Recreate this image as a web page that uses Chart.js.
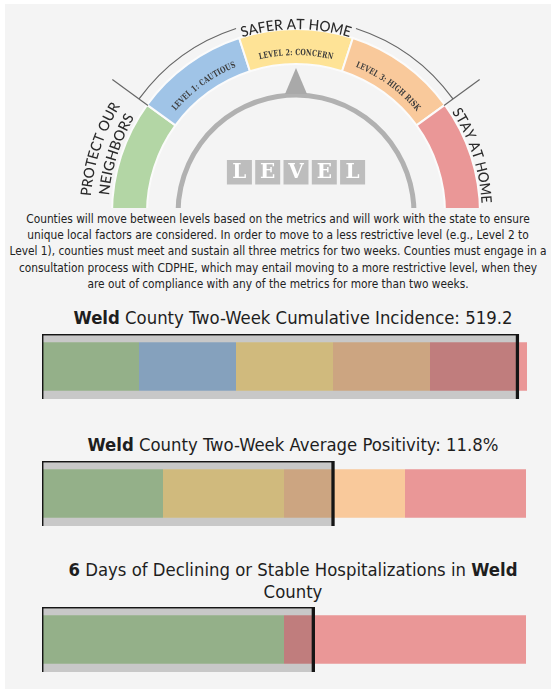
<!DOCTYPE html>
<html><head><meta charset="utf-8">
<script src="https://cdn.jsdelivr.net/npm/chart.js@4.4.1/dist/chart.umd.min.js"></script>
<style>
html,body{margin:0;padding:0;background:#fff;width:551px;height:689px;overflow:hidden;position:relative;}
#panel{position:absolute;left:5px;top:4px;right:0;bottom:0;background:#f4f4f4;}
#gaugeWrap{position:absolute;left:0;top:0;width:551px;height:208px;overflow:hidden;}
canvas{position:absolute;left:0;}
#desc{position:absolute;left:0;width:556px;top:211px;text-align:center;font-family:"DejaVu Sans Condensed","DejaVu Sans",sans-serif;font-stretch:condensed;color:#222;line-height:16.2px;font-size:11.5px;white-space:nowrap;}
.title{position:absolute;left:0;width:586px;text-align:center;font-family:"DejaVu Sans Condensed","DejaVu Sans",sans-serif;font-stretch:condensed;color:#1e1e1e;white-space:nowrap;font-size:17px;line-height:22px;}
.title b{font-weight:bold;}
</style></head>
<body>
<div id="panel"></div>
<div id="gaugeWrap"><canvas id="gauge" width="551" height="220" style="top:0"></canvas></div>
<div id="desc">Counties will move between levels based on the metrics and will work with the state to ensure<br>unique local factors are considered. In order to move to a less restrictive level (e.g., Level 2 to<br><span id="descRef">Level 1), counties must meet and sustain all three metrics for two weeks. Counties must engage in a</span><br>consultation process with CDPHE, which may entail moving to a more restrictive level, when they<br>are out of compliance with any of the metrics for more than two weeks.</div>
<div class="title" id="t1" style="top:307px"><span id="titleRef"><b>Weld</b> County Two-Week Cumulative Incidence: 519.2</span></div>
<canvas id="b1" width="551" height="69" style="top:332px"></canvas>
<div class="title" id="t2" style="top:434px"><b>Weld</b> County Two-Week Average Positivity: 11.8%</div>
<canvas id="b2" width="551" height="69" style="top:459px"></canvas>
<div class="title" id="t3" style="top:559px"><b>6</b> Days of Declining or Stable Hospitalizations in <b>Weld</b><br>County</div>
<canvas id="b3" width="551" height="69" style="top:605px"></canvas>
<script>
// ---- data ----
const gaugeLabels = ['Protect Our Neighbors','Level 1: Cautious','Level 2: Concern','Level 3: High Risk','Stay at Home'];
const gaugeValues = [1,1,1,1,1];
const gaugeColors = ['#b3d6a5','#a0c4e7','#fee396','#f9c99b','#ea9797'];
const segmentTexts = ['LEVEL 1: CAUTIOUS','LEVEL 2: CONCERN','LEVEL 3: HIGH RISK'];
const topText = 'SAFER AT HOME';
const leftTextLines = ['PROTECT OUR','NEIGHBORS'];
const rightText = 'STAY AT HOME';
const centerWord = 'LEVEL';

const incidenceBands = [100,100,100,100,100];
const incidenceColors = ['#b3d6a5','#a0c4e7','#fee396','#f9c99b','#ea9797'];
const incidenceMarker = 492;

const positivityBands = [5,5,5,5];
const positivityColors = ['#b3d6a5','#fee396','#f9c99b','#ea9797'];
const positivityMarker = 12.1;

const hospBands = [7,7];
const hospColors = ['#b3d6a5','#ea9797'];
const hospMarker = 7.9;

// ---- text fitting ----
(function(){
  const d = document.getElementById('desc');
  const w = document.getElementById('descRef').getBoundingClientRect().width;
  d.style.fontSize = (11.5*538/w)+'px';
  const tw = document.getElementById('titleRef').getBoundingClientRect().width;
  const fs = 17*439/tw;
  document.querySelectorAll('.title').forEach(t=>t.style.fontSize=fs+'px');
})();

function arcText(ctx, text, cx, cy, r, thetaC, size, font, color, target){
  ctx.save();
  ctx.font = font;
  ctx.fillStyle = color;
  ctx.textAlign = 'center';
  ctx.textBaseline = 'alphabetic';
  const chars = [...text];
  let ws = chars.map(c=>ctx.measureText(c).width);
  const sum = ws.reduce((a,b)=>a+b,0);
  let k = 1, sp = 0;
  if (target) {
    sp = (target-sum)/(chars.length-1);
    if (sp < 0.3) { sp = 0.3; k = (target - sp*(chars.length-1))/sum; }
  }
  ws = ws.map(w=>w*k);
  const total = ws.reduce((a,b)=>a+b,0) + sp*(chars.length-1);
  let s = -total/2;
  chars.forEach((c,i)=>{
    const mid = s + ws[i]/2;
    const th = thetaC + mid/r;
    ctx.save();
    ctx.translate(cx + r*Math.cos(th), cy + r*Math.sin(th));
    ctx.rotate(th + Math.PI/2);
    ctx.scale(k,1);
    ctx.fillText(c, 0, size*0.36);
    ctx.restore();
    s += ws[i] + sp;
  });
  ctx.restore();
}
const deg = Math.PI/180;

const gaugeDecor = {
  id:'gaugeDecor',
  afterDatasetsDraw(chart){
    const ctx = chart.ctx;
    const arc = chart.getDatasetMeta(0).data[0];
    const cx = arc.x, cy = arc.y;
    ctx.save();
    // inner gray arc
    ctx.beginPath();
    ctx.arc(cx, cy, 118, Math.PI*0.95, Math.PI*2.05);
    ctx.strokeStyle = '#b1b1b1';
    ctx.lineWidth = 5;
    ctx.stroke();
    // pointer
    ctx.beginPath();
    ctx.moveTo(cx, cy-145);
    ctx.lineTo(cx+11, cy-119);
    ctx.lineTo(cx-11, cy-119);
    ctx.closePath();
    ctx.fillStyle = '#a9a9a9';
    ctx.fill();
    // thin outer arcs
    ctx.strokeStyle = '#666';
    ctx.lineWidth = 1.2;
    ctx.beginPath(); ctx.arc(cx, cy, 194, (180+36)*deg, (180+72)*deg); ctx.stroke();
    ctx.beginPath(); ctx.arc(cx, cy, 194, (360-72)*deg, (360-36)*deg); ctx.stroke();
    // ticks
    [180+36, 360-36].forEach(a=>{
      ctx.beginPath();
      ctx.moveTo(cx+183*Math.cos(a*deg), cy+183*Math.sin(a*deg));
      ctx.lineTo(cx+227*Math.cos(a*deg), cy+227*Math.sin(a*deg));
      ctx.stroke();
    });
    // curved labels
    const outerFont = '500 14.5px Lato, "Open Sans", sans-serif';
    arcText(ctx, topText, cx, cy, 189, 270*deg, 14.5, outerFont, '#2a2a2a', 112);
    arcText(ctx, leftTextLines[0], cx, cy, 211, 198*deg, 14.5, outerFont, '#2a2a2a', 98);
    arcText(ctx, leftTextLines[1], cx, cy, 193, 198*deg, 14.5, outerFont, '#2a2a2a', 85);
    arcText(ctx, rightText, cx, cy, 191, 342*deg, 14.5, outerFont, '#2a2a2a', 100);
    const segFont = 'bold 8.5px "DejaVu Serif", serif';
    arcText(ctx, segmentTexts[0], cx, cy, 161, 234*deg, 8.5, segFont, '#3c3c3c', 77);
    arcText(ctx, segmentTexts[1], cx, cy, 161, 270*deg, 8.5, segFont, '#3c3c3c', 75);
    arcText(ctx, segmentTexts[2], cx, cy, 161, 306*deg, 8.5, segFont, '#3c3c3c', 78);
    // LEVEL boxes
    const letters = [...centerWord];
    const bw = 25, gap = 3.3, bh = 24.5, top = cy - 53;
    const x0 = cx - (letters.length*bw + (letters.length-1)*gap)/2;
    ctx.font = 'bold 20px "DejaVu Serif", serif';
    ctx.textAlign = 'center';
    ctx.textBaseline = 'middle';
    letters.forEach((L,i)=>{
      const x = x0 + i*(bw+gap);
      ctx.fillStyle = '#bdbdbd';
      ctx.fillRect(x, top, bw, bh);
      ctx.fillStyle = '#ffffff';
      ctx.fillText(L, x+bw/2, top+bh/2+1);
    });
    ctx.restore();
  }
};

new Chart(document.getElementById('gauge'), {
  type:'doughnut',
  data:{labels:gaugeLabels, datasets:[{data:gaugeValues, backgroundColor:gaugeColors, borderColor:'#fbfbfb', borderWidth:2, hoverBorderWidth:2, hoverOffset:0, offset:0}]},
  options:{
    responsive:false, animation:false, devicePixelRatio:1, events:[],
    circumference:180, rotation:-90, cutout:'81%',
    layout:{padding:{left:111,right:70,top:28,bottom:6}},
    plugins:{legend:{display:false}, tooltip:{enabled:false}}
  },
  plugins:[gaugeDecor]
});

function bullet(id, bands, colors, marker, padRight){
  const total = bands.reduce((a,b)=>a+b,0);
  const datasets = [{
    label:'value', data:[marker], backgroundColor:'rgba(24,24,24,0.2)', borderColor:'#151515',
    borderWidth:{top:1.5,right:3.5,left:1.5,bottom:0}, borderSkipped:false,
    barThickness:65, grouped:false, stack:'v', order:0, inflateAmount:0
  }];
  bands.forEach((b,i)=>datasets.push({
    label:'band'+i, data:[b], backgroundColor:colors[i], borderWidth:0,
    barThickness:48.5, grouped:false, stack:'b', order:1, inflateAmount:0
  }));
  new Chart(document.getElementById(id), {
    type:'bar',
    data:{labels:[''], datasets},
    options:{
      indexAxis:'y', responsive:false, animation:false, devicePixelRatio:1, events:[],
      layout:{padding:{left:42,right:padRight,top:2,bottom:2}},
      scales:{x:{display:false, stacked:true, min:0, max:total}, y:{display:false, stacked:false}},
      plugins:{legend:{display:false}, tooltip:{enabled:false}}
    }
  });
}
bullet('b1', incidenceBands, incidenceColors, incidenceMarker, 24);
bullet('b2', positivityBands, positivityColors, positivityMarker, 25);
bullet('b3', hospBands, hospColors, hospMarker, 25);
</script>
</body></html>
